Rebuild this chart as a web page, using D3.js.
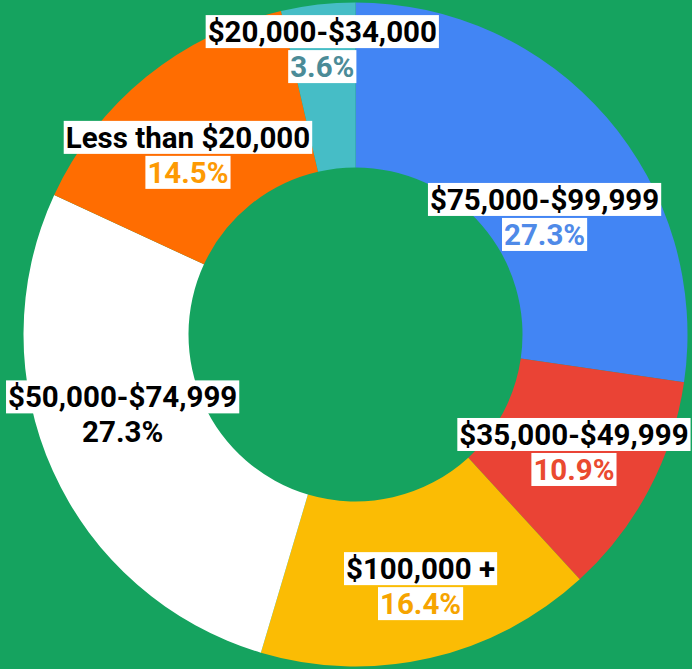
<!DOCTYPE html>
<html>
<head>
<meta charset="utf-8">
<script src="https://cdn.jsdelivr.net/npm/d3@7"></script>
<style>
  html, body { margin: 0; padding: 0; background: #15a35f; }
  svg { display: block; }
  text { font-family: Roboto, "Liberation Sans", sans-serif; font-weight: 700; }
</style>
</head>
<body>
<div class="chart"></div>
<script>
// slices, clockwise from 12 o'clock
const categories = ["$75,000-$99,999", "$35,000-$49,999", "$100,000 +", "$50,000-$74,999", "Less than $20,000", "$20,000-$34,000"];
const shares = [27.3, 10.9, 16.4, 27.3, 14.5, 3.6];
const pctLabels = ["27.3%", "10.9%", "16.4%", "27.3%", "14.5%", "3.6%"];

const sliceColors = ["#4285f4", "#ea4335", "#fbbc04", "#ffffff", "#ff6d01", "#46bdc6"];
const pctColors = ["#4f8ae8", "#ea4a30", "#f6a400", "#000000", "#fd9a03", "#4b8b97"];
// label nudges from the arc centroid (layout only)
const labelNudge = [[0, 39], [-2.5, -6.5], [9, 1], [-5, -30], [-10, 7.5], [-5, -44]];

const width = 692, height = 669;
const cx = 355.5, cy = 334.5;
const outerR = 332, innerR = 167, labelR = 250;

const svg = d3.select(".chart").append("svg")
    .attr("width", width)
    .attr("height", height);

svg.append("rect").attr("width", width).attr("height", height).attr("fill", "#15a35f");

const g = svg.append("g").attr("transform", `translate(${cx}, ${cy})`);

const data = categories.map((c, i) => ({ name: c, value: shares[i], pct: pctLabels[i], i }));

const pie = d3.pie().value(d => d.value).sort(null);
const arcs = pie(data);
const arc = d3.arc().innerRadius(innerR).outerRadius(outerR);
const labelArc = d3.arc().innerRadius(labelR).outerRadius(labelR);

g.selectAll("path.slice")
  .data(arcs)
  .enter()
  .append("path")
    .attr("class", "slice")
    .attr("d", arc)
    .attr("fill", d => sliceColors[d.data.i]);

const labels = g.selectAll("g.label")
  .data(arcs)
  .enter()
  .append("g")
    .attr("class", "label")
    .attr("transform", d => {
      const [x, y] = labelArc.centroid(d);
      const n = labelNudge[d.data.i];
      return `translate(${x + n[0]}, ${y + n[1]})`;
    });

labels.each(function(d) {
  const el = d3.select(this);
  const lines = [
    { text: d.data.name, color: "#000000", dy: 0 },
    { text: d.data.pct, color: pctColors[d.data.i], dy: 35 }
  ];
  lines.forEach(l => {
    const box = el.append("rect").attr("fill", "#ffffff");
    const t = el.append("text")
        .attr("text-anchor", "middle")
        .attr("y", l.dy)
        .attr("font-size", 29.5)
        .attr("fill", l.color)
        .text(l.text);
    const w = t.node().getComputedTextLength();
    box.attr("x", -w / 2 - 2)
       .attr("y", l.dy - 27)
       .attr("width", w + 4)
       .attr("height", 33);
  });
});
</script>
</body>
</html>
